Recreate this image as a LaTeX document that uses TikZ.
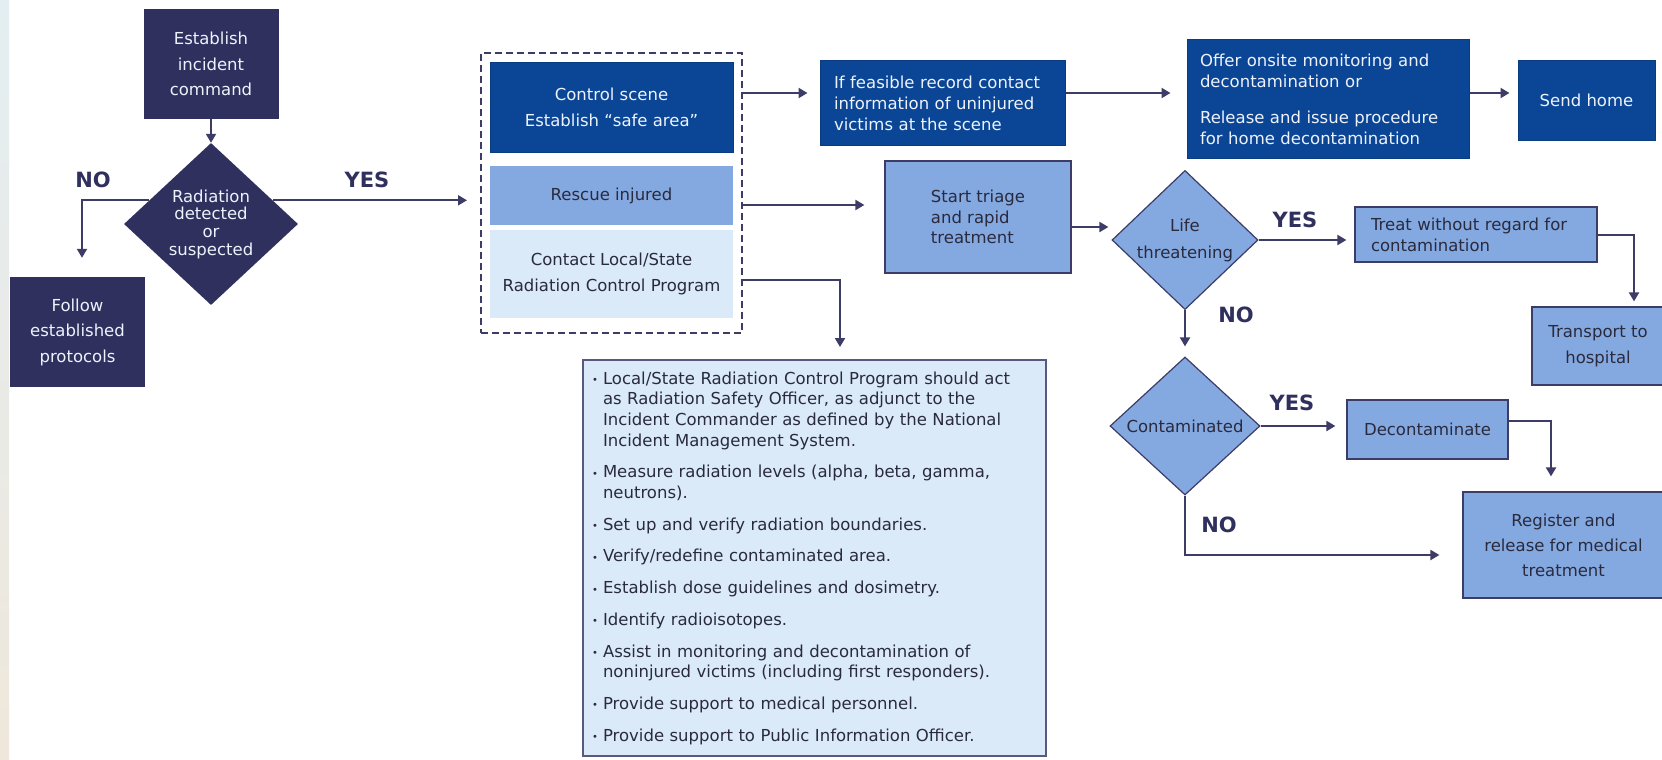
\documentclass[tikz,border=0pt]{standalone}
\usepackage{fontspec}
\setmainfont{DejaVu Sans}
\usetikzlibrary{arrows.meta,shapes.geometric,calc}
\definecolor{navy}{HTML}{30305F}
\definecolor{dblue}{HTML}{0B4696}
\definecolor{mblue}{HTML}{84A8E0}
\definecolor{lblue}{HTML}{DAEAF9}
\definecolor{linec}{HTML}{3C3C66}
\definecolor{txtd}{HTML}{2A2A3E}
\definecolor{txtl}{HTML}{EEF2FA}
\definecolor{stripa}{HTML}{E3EEF2}
\definecolor{stripb}{HTML}{EFE7DB}
\newcommand\fsz[1]{\fontsize{16.5}{#1}\selectfont}
\newcommand\bul{\makebox[11pt][l]{\raisebox{0.5pt}{\fontsize{10}{10}\selectfont\textbullet}}}
\newcommand\ind{\hspace*{11pt}}
\begin{document}
\begin{tikzpicture}[x=1pt,y=-1pt,
 base/.style={rectangle, inner sep=0pt, align=center, font=\fsz{25.5}},
 navybox/.style={base, fill=navy, text=txtl},
 dbox/.style={base, fill=dblue, draw=dblue!85!black, line width=1pt, text=txtl},
 mbox/.style={base, fill=mblue, draw=linec, line width=1.2pt, text=txtd},
 lbox/.style={base, fill=lblue, text=txtd},
 dia/.style={diamond, inner sep=0pt, align=center},
 arr/.style={draw=linec, line width=2pt, -{Triangle[length=9pt,width=10pt]}},
 yn/.style={font=\fontsize{21}{21}\selectfont\bfseries, text=navy, inner sep=0pt}
]
\useasboundingbox (0,0) rectangle (1662,760);
\clip (0,0) rectangle (1662,760);
\fill[white] (0,0) rectangle (1662,760);
\shade[top color=stripa, bottom color=stripb] (0,0) rectangle (9,760);

% left part
\node[navybox, minimum width=135pt, minimum height=110pt] (est) at (211,64) {Establish\\incident\\command};
\node[dia, fill=navy, text=txtl, minimum width=174pt, minimum height=162pt, font=\fsz{17.7}] (rad) at (211,224) {Radiation\\detected\\or\\suspected};
\node[navybox, minimum width=135pt, minimum height=110pt] (follow) at (77.5,332) {Follow\\established\\protocols};

% dashed group
\node[rectangle, draw=linec, line width=2pt, dash pattern=on 7pt off 4pt, minimum width=261pt, minimum height=280pt] (dash) at (611.5,193) {};
\node[dbox, minimum width=243pt, minimum height=89pt] (ctrl) at (611.5,107.5) {Control scene\\Establish ``safe area''};
\node[lbox, fill=mblue, minimum width=243pt, minimum height=59pt] (rescue) at (611.5,195.5) {Rescue injured};
\node[lbox, minimum width=243pt, minimum height=88pt] (contact) at (611.5,274) {Contact Local/State\\Radiation Control Program};

% top row
\node[dbox, align=left, font=\fsz{21}, inner xsep=14pt, text width=217pt, minimum height=84pt] (feas) at (942.5,103) {If feasible record contact\\information of uninjured\\victims at the scene};
\node[dbox, align=left, font=\fsz{21}, inner xsep=13pt, text width=256pt, minimum height=118pt] (offer) at (1328,99) {Offer onsite monitoring and\\decontamination or\\[15pt]Release and issue procedure\\for home decontamination};
\node[dbox, minimum width=137pt, minimum height=79pt] (send) at (1586.5,100.5) {Send home};

% middle
\node[mbox, align=left, font=\fsz{20.5}, minimum width=186pt, minimum height=112pt] (triage) at (978,217) {Start triage\\and rapid\\treatment};
\node[dia, fill=mblue, draw=linec, line width=1.2pt, text=txtd, minimum width=146pt, minimum height=138pt, font=\fsz{27}] (life) at (1185,240) {Life\\threatening};
\node[mbox, align=left, font=\fsz{21}, inner xsep=16pt, text width=210pt, minimum height=55pt] (treat) at (1476,234.5) {Treat without regard for\\contamination};
\node[mbox, minimum width=132pt, minimum height=78pt, font=\fsz{26}] (transport) at (1598,346) {Transport to\\hospital};
\node[dia, fill=mblue, draw=linec, line width=1.2pt, text=txtd, minimum width=150pt, minimum height=138pt, font=\fsz{20}] (cont) at (1185,426) {Contaminated};
\node[mbox, minimum width=161pt, minimum height=59pt] (decon) at (1427.5,429.5) {Decontaminate};
\node[mbox, minimum width=201pt, minimum height=106pt, font=\fsz{25}] (register) at (1563.5,545) {Register and\\release for medical\\treatment};

% info box
\node[rectangle, fill=lblue, draw=linec!85, line width=2pt, align=left, inner xsep=9pt, inner ysep=0pt, text width=445pt, minimum height=396pt, text=txtd, font=\fsz{20.7}] (info) at (814.5,558) {%
\bul Local/State Radiation Control Program should act\\
\ind as Radiation Safety Officer, as adjunct to the\\
\ind Incident Commander as defined by the National\\
\ind Incident Management System.\\[11pt]
\bul Measure radiation levels (alpha, beta, gamma,\\
\ind neutrons).\\[11pt]
\bul Set up and verify radiation boundaries.\\[11pt]
\bul Verify/redefine contaminated area.\\[11pt]
\bul Establish dose guidelines and dosimetry.\\[11pt]
\bul Identify radioisotopes.\\[11pt]
\bul Assist in monitoring and decontamination of\\
\ind noninjured victims (including first responders).\\[11pt]
\bul Provide support to medical personnel.\\[11pt]
\bul Provide support to Public Information Officer.};

% labels
\node[yn] (no1) at (93,180) {NO};
\node[yn] (yes1) at (367,180) {YES};
\node[yn] (yes2) at (1295,220) {YES};
\node[yn] (no2) at (1236,315) {NO};
\node[yn] (yes3) at (1292,403) {YES};
\node[yn] (no3) at (1219,525) {NO};

% connectors
\draw[arr] (est.south) -- (est.south |- rad.north);
\draw[arr, shorten >=19pt] (rad.159) -| ($(follow.north)+(4.5,0)$);
\draw[arr, shorten >=13pt] (rad.21) -- (rad.21 -| dash.west);
\draw[arr, shorten >=12pt] ($(ctrl.east -| dash.east)+(0,-14.5)$) -- ($(ctrl.east -| feas.west)+(0,-14.5)$);
\draw[arr, shorten >=16pt] ($(feas.east)+(0,-10)$) -- ($(feas.east -| offer.west)+(0,-10)$);
\draw[arr, shorten >=8pt] ($(offer.east)+(0,-6)$) -- ($(offer.east -| send.west)+(0,-6)$);
\draw[arr, shorten >=20pt] ($(rescue.east -| dash.east)+(0,9.5)$) -- ($(rescue.east -| triage.west)+(0,9.5)$);
\draw[arr, shorten >=12pt] ($(contact.east -| dash.east)+(0,6)$) -| ($(info.north)+(25.5,0)$);
\draw[arr, shorten >=3pt] ($(triage.east)+(0,10)$) -- ($(triage.east -| life.west)+(0,10)$);
\draw[arr, shorten >=8pt] (life.east) -- (life.east -| treat.west);
\draw[arr, shorten >=5pt] (treat.east) -| ($(transport.north)+(36,0)$);
\draw[arr, shorten >=10pt] (life.south) -- (cont.north);
\draw[arr, shorten >=11pt] (cont.east) -- (cont.east -| decon.west);
\draw[arr, shorten >=15pt] ($(decon.east)+(0,-8.5)$) -| ($(register.north)+(-12.5,0)$);
\draw[arr, shorten >=23pt] (cont.south) |- ($(register.west)+(0,10)$);
\end{tikzpicture}
\end{document}
